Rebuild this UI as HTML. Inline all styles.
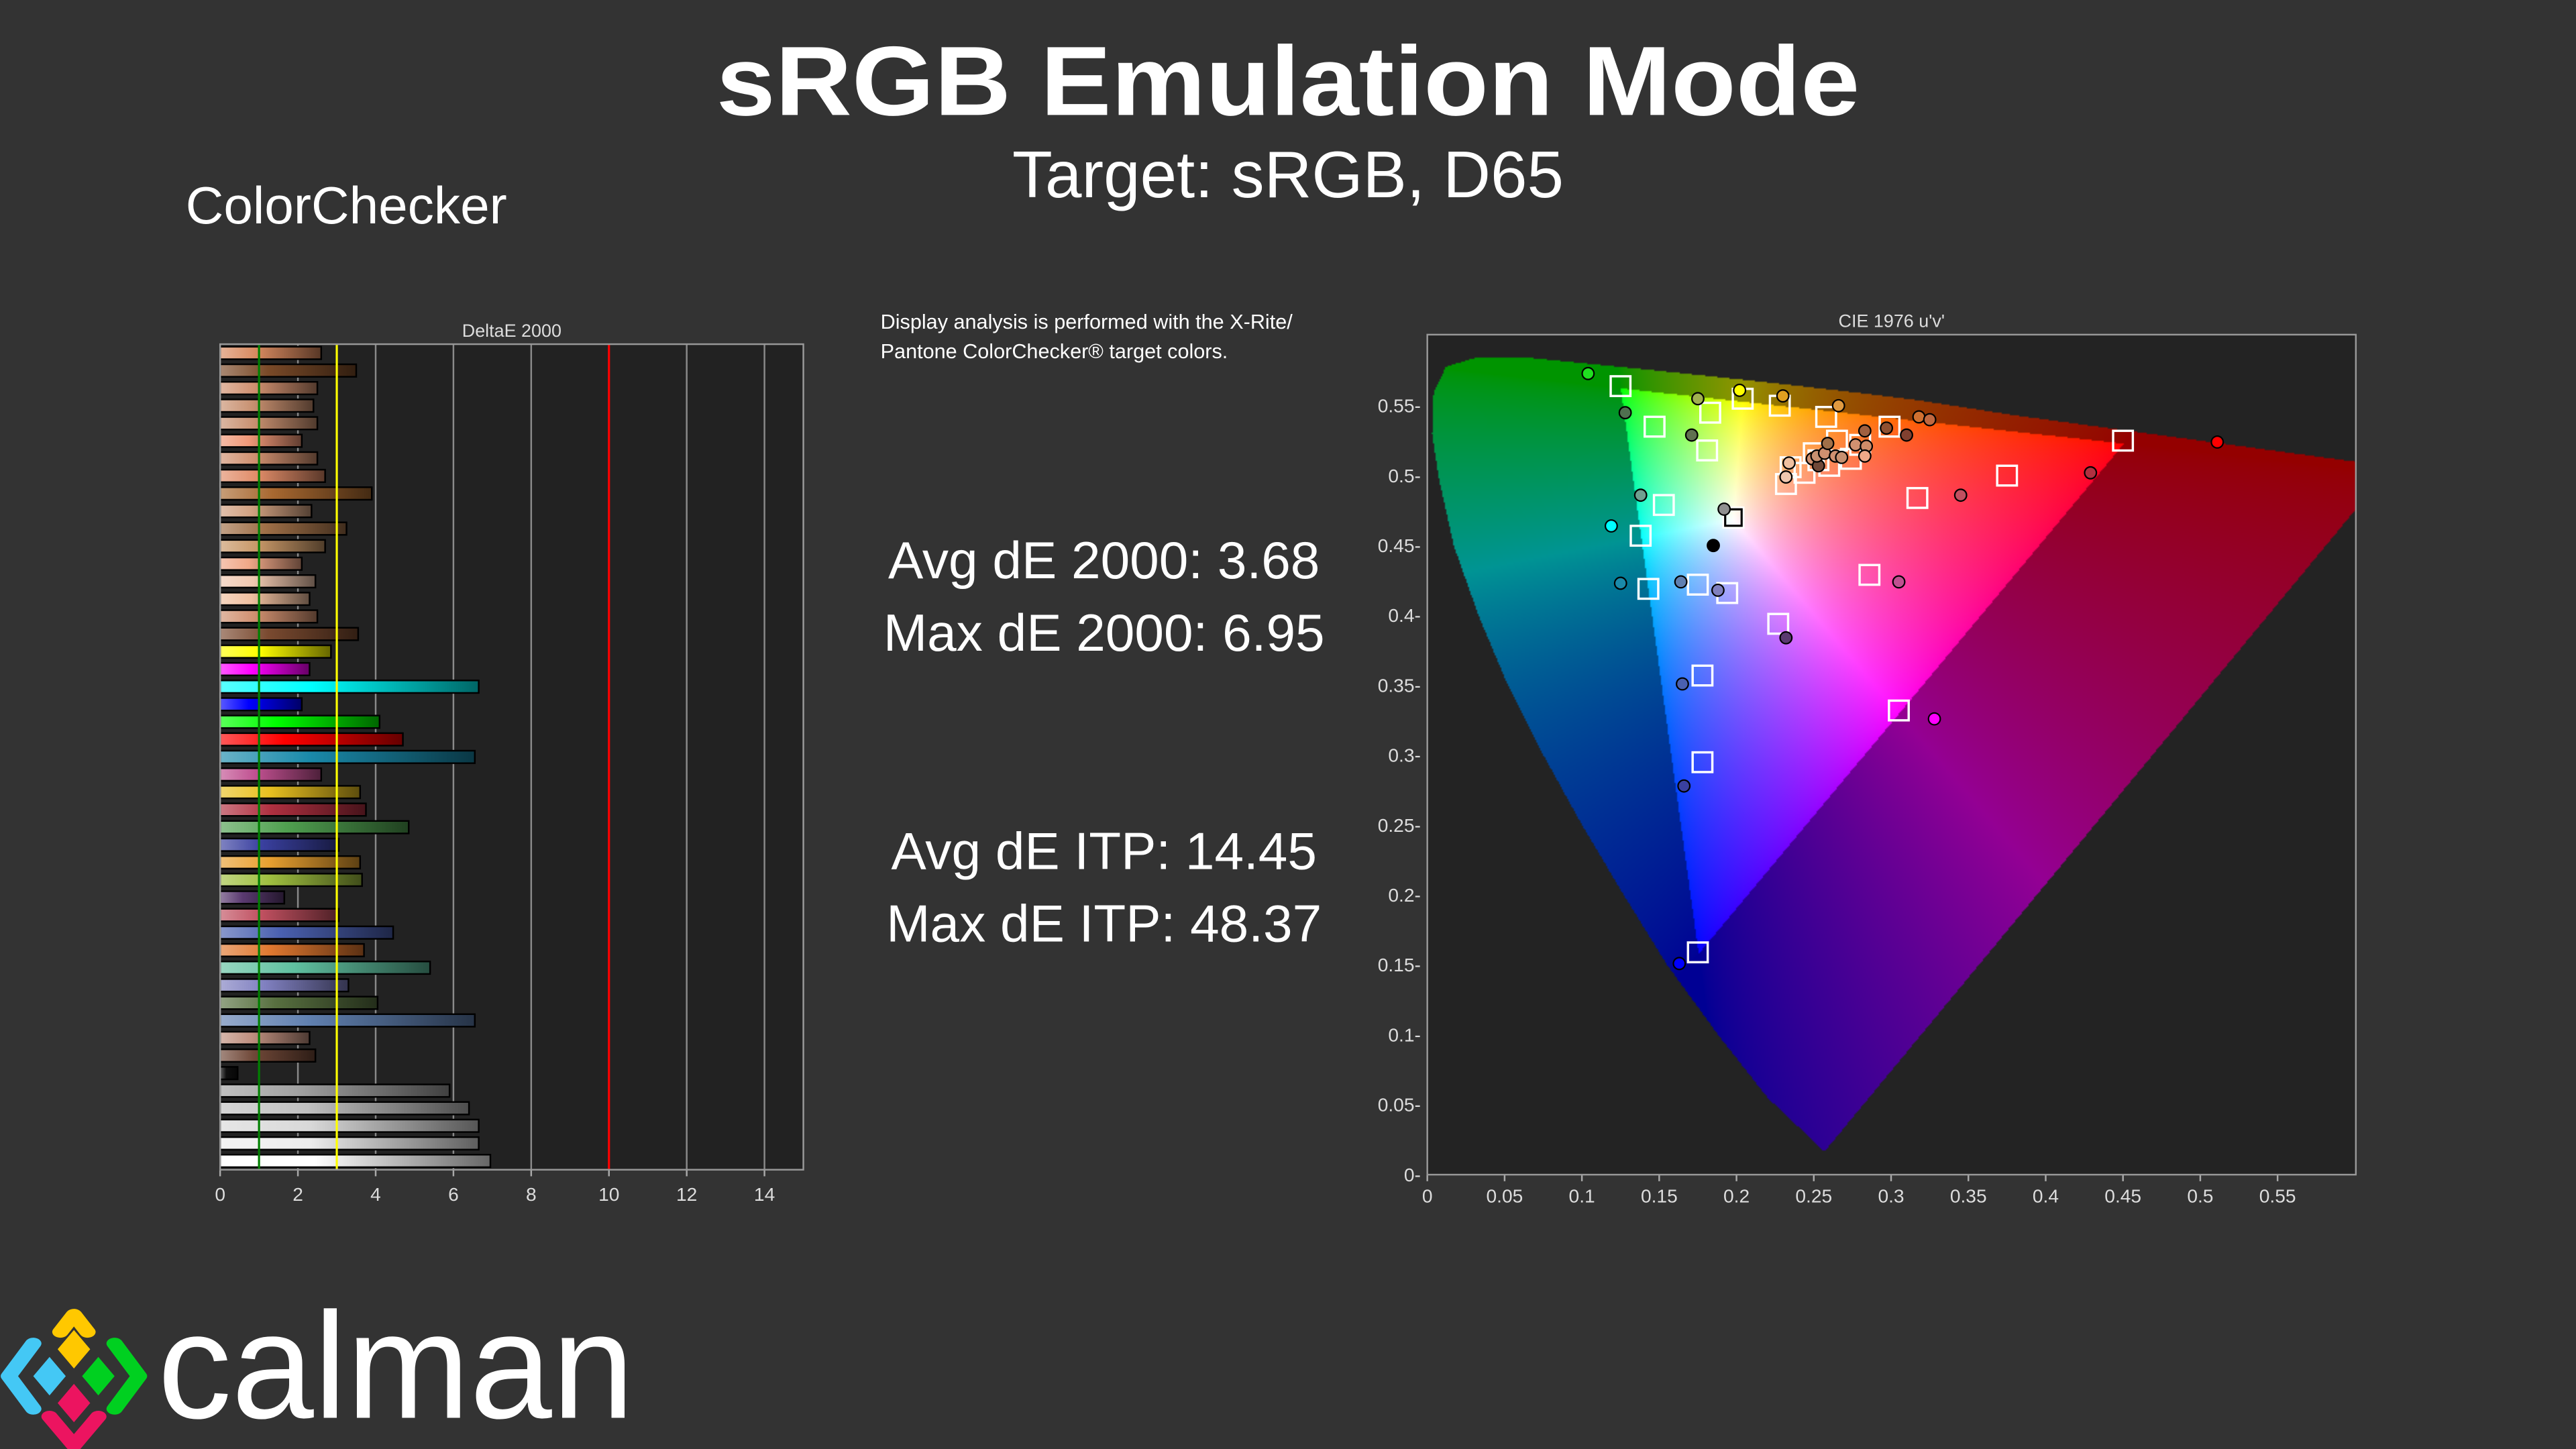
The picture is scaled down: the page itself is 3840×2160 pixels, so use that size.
<!DOCTYPE html>
<html><head><meta charset="utf-8">
<style>
html,body{margin:0;padding:0;background:#333333;}
#wrap{position:relative;width:3840px;height:2160px;overflow:hidden;background:#333333;}
#cie-canvas{position:absolute;left:2128px;top:499px;width:1384px;height:1252px;}
#main-svg{position:absolute;left:0;top:0;}
text{font-family:"Liberation Sans",sans-serif;}
</style></head>
<body>
<div id="wrap">
<canvas id="cie-canvas" width="692" height="626"></canvas>
<svg id="main-svg" width="3840" height="2160" viewBox="0 0 1568 882" xmlns="http://www.w3.org/2000/svg">
<defs></defs>
<text x="436" y="70" font-size="60" font-weight="bold" fill="#fff" textLength="696" lengthAdjust="spacingAndGlyphs">sRGB Emulation Mode</text>
<text x="784" y="120" text-anchor="middle" font-size="40" fill="#fff">Target: sRGB, D65</text>
<text x="113" y="136" font-size="32" fill="#fff">ColorChecker</text>

<text x="536" y="200" font-size="12.5" fill="#fff">Display analysis is performed with the X-Rite/</text>
<text x="536" y="218" font-size="12.5" fill="#fff">Pantone ColorChecker® target colors.</text>
<text x="672" y="352" text-anchor="middle" font-size="32" fill="#fff">Avg dE 2000: 3.68</text>
<text x="672" y="396" text-anchor="middle" font-size="32" fill="#fff">Max dE 2000: 6.95</text>
<text x="672" y="529" text-anchor="middle" font-size="32" fill="#fff">Avg dE ITP: 14.45</text>
<text x="672" y="573" text-anchor="middle" font-size="32" fill="#fff">Max dE ITP: 48.37</text>

<g id="bar-chart"></g>
<g id="cie-chart"></g>

<g>
  <g transform="translate(45,840) scale(1.65,1.17) translate(-29,-842)">
    <path d="M24,817 L29,808 L34,817" fill="none" stroke="#ffc800" stroke-width="6" stroke-linejoin="round" stroke-linecap="round"/>
    <path d="M29,816 L35,826 L29,836 L23,826 Z" fill="#ffc800"/>
    <path d="M14,823 L5,840 L14,857" fill="none" stroke="#44c8f5" stroke-width="6" stroke-linejoin="round" stroke-linecap="round"/>
    <path d="M20,830 L26,840 L20,850 L14,840 Z" fill="#44c8f5"/>
    <path d="M44,823 L53,840 L44,857" fill="none" stroke="#00d020" stroke-width="6" stroke-linejoin="round" stroke-linecap="round"/>
    <path d="M38,830 L44,840 L38,850 L32,840 Z" fill="#00d020"/>
    <path d="M29,844 L35,854 L29,864 L23,854 Z" fill="#ec1460"/>
    <path d="M20,861 L29,876 L38,861" fill="none" stroke="#ec1460" stroke-width="6" stroke-linejoin="round" stroke-linecap="round"/>
  </g>
  <text x="96" y="863" font-size="92" fill="#fff" textLength="290" lengthAdjust="spacingAndGlyphs">calman</text>
</g>
</svg>
</div>
<script>
// ---------- Bar chart data ----------
const barValues = [2.6,3.5,2.5,2.4,2.5,2.1,2.5,2.7,3.9,2.35,3.25,2.7,2.1,2.45,2.3,2.5,3.55,2.85,2.3,6.65,2.1,4.1,4.7,6.55,2.6,3.6,3.75,4.85,3.05,3.6,3.65,1.65,3.05,4.45,3.7,5.4,3.3,4.05,6.55,2.3,2.45,0.45,5.9,6.4,6.65,6.65,6.95];
const barColors = ["#d98a60","#7a4a28","#d09070","#c89070","#c89070","#f09878","#d09070","#e08c68","#a86830","#d0a080","#a07048","#c89868","#f0a888","#f0c8b0","#f0c0a0","#d09070","#7a4a30","#ffff00","#ff00ff","#00ffff","#0000ff","#00ff00","#ff0000","#1a8aaa","#c05090","#e8c020","#b03040","#50a050","#3a40a0","#e8a030","#a0c040","#5a3a70","#c05060","#4a60b0","#e07830","#60c0a0","#8080c0","#587040","#6080b0","#c09080","#704838","#101010","#a0a0a0","#c0c0c0","#d8d8d8","#ececec","#ffffff"];
const barTicks = [0,2,4,6,8,10,12,14];
const refLines = [1,3,10];
const refColors = ["#008000","#ffff00","#ff0000"];

// ---------- CIE data ----------
const targetU = [0.125,0.147,0.183,0.204,0.228,0.258,0.299,0.450,0.181,0.153,0.138,0.198,0.143,0.175,0.194,0.227,0.286,0.317,0.375,0.178,0.305,0.178,0.175,0.232,0.244,0.250,0.265,0.274,0.280,0.260,0.253,0.235];
const targetV = [0.564,0.535,0.545,0.555,0.550,0.542,0.535,0.525,0.518,0.479,0.457,0.470,0.419,0.422,0.416,0.394,0.429,0.484,0.500,0.357,0.332,0.295,0.159,0.494,0.502,0.516,0.525,0.512,0.522,0.507,0.511,0.506];
const measU = [0.104,0.128,0.175,0.202,0.230,0.266,0.318,0.325,0.283,0.297,0.310,0.171,0.511,0.429,0.345,0.138,0.119,0.192,0.185,0.125,0.164,0.188,0.232,0.305,0.165,0.328,0.166,0.163,0.234,0.232,0.249,0.253,0.252,0.257,0.259,0.264,0.268,0.277,0.284,0.283];
const measV = [0.573,0.545,0.555,0.561,0.557,0.550,0.542,0.540,0.532,0.534,0.529,0.529,0.524,0.502,0.486,0.486,0.464,0.476,0.450,0.423,0.424,0.418,0.384,0.424,0.351,0.326,0.278,0.151,0.509,0.499,0.512,0.507,0.514,0.516,0.523,0.514,0.513,0.522,0.521,0.514];
const measColors = ["#20e020","#507050","#a0b050","#ffff00","#e0a020","#e09a40","#d07030","#c06840","#a06040","#905030","#804030","#607050","#ff0000","#b03040","#c05060","#70a090","#00ffff","#909090","#000000","#1a8aaa","#6080b0","#8080c0","#5a3a70","#c05090","#4a60b0","#ff00ff","#3a40a0","#0000ff","#f0c0a0","#f0c8b0","#d09070","#704838","#c89070","#d09070","#a07048","#d09070","#c89070","#d09070","#d08c68","#f0a888"];
const cieXTicks = ["0","0.05","0.1","0.15","0.2","0.25","0.3","0.35","0.4","0.45","0.5","0.55"];
const cieYTicks = ["0","0.05","0.1","0.15","0.2","0.25","0.3","0.35","0.4","0.45","0.5","0.55"];
const locusU = [0.2568,0.2200,0.1880,0.1550,0.1270,0.1000,0.0750,0.0520,0.0330,0.0170,0.0070,0.0030,0.0040,0.0120,0.0300,0.0600,0.1023,0.1369,0.1747,0.2144,0.2536,0.2871,0.3149,0.3332,0.3521,0.3811,0.6234];
const locusV = [0.0165,0.0550,0.1000,0.1500,0.2000,0.2500,0.3000,0.3500,0.4000,0.4500,0.5000,0.5300,0.5600,0.5780,0.5840,0.5850,0.5803,0.5765,0.5721,0.5674,0.5625,0.5582,0.5543,0.5512,0.5480,0.5430,0.5065];
const srgbU = [0.4507,0.1250,0.1754];
const srgbV = [0.5229,0.5625,0.1579];

const NS = "http://www.w3.org/2000/svg";
function mk(tag, attrs, parent){const e=document.createElementNS(NS,tag);for(const k in attrs)e.setAttribute(k,attrs[k]);parent.appendChild(e);return e;}
function shade(hex,f){const n=parseInt(hex.slice(1),16);let r=(n>>16)&255,g=(n>>8)&255,b=n&255;
 if(f>=0){r=r+(255-r)*f;g=g+(255-g)*f;b=b+(255-b)*f;}else{r*=1+f;g*=1+f;b*=1+f;}
 return "rgb("+Math.round(r)+","+Math.round(g)+","+Math.round(b)+")";}

// ---------- Bar chart ----------
(function(){
 const g=document.getElementById('bar-chart');
 const defs=document.querySelector('defs');
 const L=134,R=489,T=209.5,B=712;
 const bx=v=>L+v*(R-L)/15;
 const n=barValues.length, step=(B-T)/n;
 const bgRect=mk('rect',{x:L,y:T,width:R-L,height:B-T,fill:'#222222'},g);
 
 
 const title=mk('text',{x:(L+R)/2,y:205,'text-anchor':'middle','font-size':11,fill:'#ddd'},g);
 title.textContent='DeltaE 2000';
 
 
 barTicks.forEach(t=>{
  if(t>0 && refLines.indexOf(t)<0){
   const gl=mk('line',{x1:bx(t),x2:bx(t),y1:T,y2:B,stroke:'#8a8a8a','stroke-width':1},g);
   
   
  }
  const tl=mk('text',{x:bx(t),y:731,'text-anchor':'middle','font-size':11.5,fill:'#ddd'},g);
  tl.textContent=t;
  
  
  const tk=mk('line',{x1:bx(t),x2:bx(t),y1:B,y2:B+4,stroke:'#aaa','stroke-width':1},g);
  
  
 });
 barValues.forEach((v,i)=>{
  const c=barColors[i];
  const gid='bg'+i;
  const lg=mk('linearGradient',{id:gid,x1:0,x2:1,y1:0,y2:0},defs);
  mk('stop',{offset:'0',  'stop-color':shade(c,0.35)},lg);
  mk('stop',{offset:'0.35','stop-color':c},lg);
  mk('stop',{offset:'1',  'stop-color':shade(c,-0.6)},lg);
  const cy=T+step*(i+0.5);
  const r=mk('rect',{x:L,y:cy-3.8,width:bx(v)-L,height:7.6,fill:'url(#'+gid+')',stroke:'#000','stroke-width':1},g);
  
  
 });
 refLines.forEach((t,i)=>{
  const l=mk('line',{x1:bx(t),x2:bx(t),y1:T,y2:B,stroke:refColors[i],'stroke-width':1.3},g);
  
  
 });
 const fr=mk('rect',{x:L,y:T,width:R-L,height:B-T,fill:'none',stroke:'#999','stroke-width':1},g);
 
 
})();

// ---------- CIE chart ----------
const PL=868.8,PR=1434,PT=203.7,PB=715;
const su=u=>PL+u*941;
const sv=v=>PB-v*851;
(function(){
 const g=document.getElementById('cie-chart');
 const title=mk('text',{x:(PL+PR)/2,y:199,'text-anchor':'middle','font-size':11,fill:'#ddd'},g);
 title.textContent="CIE 1976 u'v'";
 
 
 cieXTicks.forEach(t=>{
  const x=su(parseFloat(t));
  const tl=mk('text',{x:x,y:732,'text-anchor':'middle','font-size':11.5,fill:'#ddd'},g);
  tl.textContent=t;
  
  
  const tk=mk('line',{x1:x,x2:x,y1:PB,y2:PB+4,stroke:'#aaa','stroke-width':1},g);
  
  
 });
 cieYTicks.forEach(t=>{
  const y=sv(parseFloat(t));
  const tl=mk('text',{x:PL-4,y:y+4,'text-anchor':'end','font-size':11.5,fill:'#ddd'},g);
  tl.textContent=t+'-';
  
  
 });
 targetU.forEach((u,i)=>{
  const s=mk('rect',{x:su(u)-6,y:sv(targetV[i])-6,width:12,height:12,fill:'none',stroke:'#fff','stroke-width':1.4},g);
  
  
 });
 const wp=mk('rect',{x:su(0.198)-5,y:sv(0.470)-5,width:10,height:10,fill:'none',stroke:'#000','stroke-width':1.3},g);
 
 
 measU.forEach((u,i)=>{
  const c=mk('circle',{cx:su(u),cy:sv(measV[i]),r:3.6,fill:measColors[i],stroke:'#000','stroke-width':0.9},g);
  
  
 });
 const fr=mk('rect',{x:PL,y:PT,width:PR-PL,height:PB-PT,fill:'none',stroke:'#999','stroke-width':1},g);
 
 
})();

// ---------- CIE gamut raster ----------
(function(){
 const cv=document.getElementById('cie-canvas');
 const ctx=cv.getContext('2d');
 const W=cv.width,H=cv.height;
 const img=ctx.createImageData(W,H);
 function inPoly(u,v,xs,ys){let c=false;for(let i=0,j=xs.length-1;i<xs.length;j=i++){
   if(((ys[i]>v)!=(ys[j]>v))&&(u<(xs[j]-xs[i])*(v-ys[i])/(ys[j]-ys[i])+xs[i]))c=!c;}return c;}
 const gam=x=>x<=0?0:Math.pow(x,1/1.5);
 for(let j=0;j<H;j++){
  const ys=PT+(j+0.5)/H*(PB-PT);
  const v=(PB-ys)/851;
  for(let i=0;i<W;i++){
   const xs=PL+(i+0.5)/W*(PR-PL);
   const u=(xs-PL)/941;
   const k=(j*W+i)*4;
   let r=0x23,gg=0x23,b=0x23;
   if(inPoly(u,v,locusU,locusV)){
    const d=6*u-16*v+12;const x=9*u/d,y=4*v/d;
    const X=x/y,Y=1,Z=(1-x-y)/y;
    let R=3.2406*X-1.5372*Y-0.4986*Z,G=-0.9689*X+1.8758*Y+0.0415*Z,B=0.0557*X-0.2040*Y+1.0570*Z;
    const inside=inPoly(u,v,srgbU,srgbV);
    R=Math.max(R,0);G=Math.max(G,0);B=Math.max(B,0);
    const m=Math.max(R,G,B)||1;R/=m;G/=m;B/=m;
    let f=1;
    if(!inside){f=0.58;}
    r=gam(R)*255*f;gg=gam(G)*255*f;b=gam(B)*255*f;
   }
   img.data[k]=r;img.data[k+1]=gg;img.data[k+2]=b;img.data[k+3]=255;
  }
 }
 ctx.putImageData(img,0,0);
})();
</script>
</body></html>
